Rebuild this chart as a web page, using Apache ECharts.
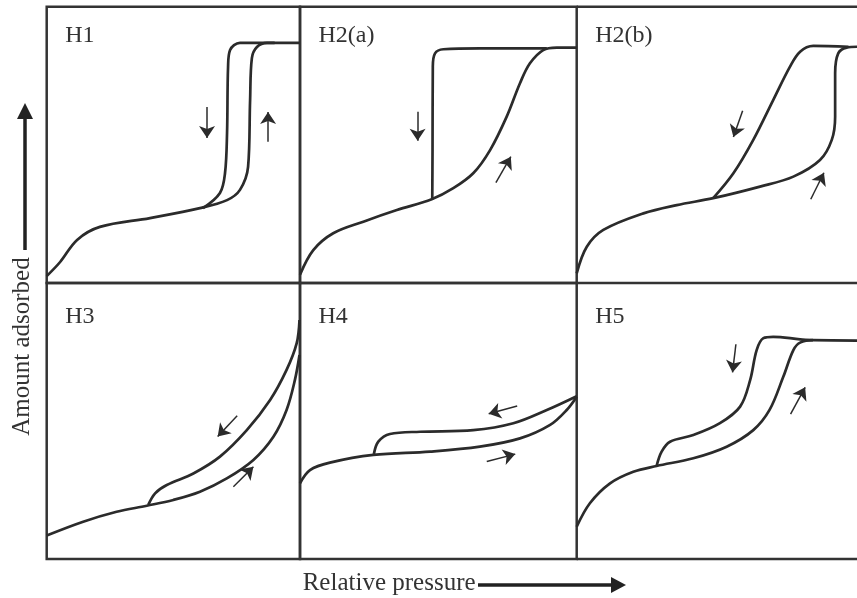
<!DOCTYPE html>
<html>
<head>
<meta charset="utf-8">
<script src="https://cdn.jsdelivr.net/npm/echarts@6/dist/echarts.min.js"></script>
<style>html,body{margin:0;padding:0;background:#fff}#c{width:857px;height:598px}</style>
</head>
<body>
<div id="c"></div>
<script>
// Panel names
const panelNames = ['H1', 'H2(a)', 'H2(b)', 'H3', 'H4', 'H5'];
const xAxisName = 'Relative pressure';
const yAxisName = 'Amount adsorbed';

// Curves: [relative pressure (0-100 of panel), amount adsorbed (0-100 of panel)]
const h1Ads = [[0,2.5],[5.3,7.6],[12,15.6],[21,20.3],[40.8,23.5],[60.5,27.1],[71.2,30],[76.3,33.7],[79.5,42],[80.3,66.2],[81,81.4],[83,85.4],[87,86.9],[100,86.9]];
const h1Des = [[61.7,27.1],[68.4,32.6],[70.4,39.8],[71.2,54.3],[71.6,78.2],[72.4,84.3],[76.3,86.9],[90,86.9]];
const h2aAds = [[0,3],[4.8,11.9],[12,18],[22.9,22.2],[35,26.4],[47.6,30.3],[55.4,34.3],[62.6,39.7],[68.7,48.1],[74.7,60.2],[79.5,72.3],[83.1,79.5],[87.9,84.3],[92.8,85.2],[100,85.2]];
const h2aDes = [[47.8,30.3],[47.9,48.1],[48,78.3],[48.8,83.1],[51.8,84.6],[65,84.9],[89.2,84.9]];
const h2bAds = [[0,3.5],[3.6,13.1],[9.5,19.2],[23.8,25.2],[35.7,28.2],[48.7,30.7],[65.4,34.9],[77.3,38.5],[86.8,44.5],[91,51.8],[92.2,60.2],[92.2,75.9],[93.3,83.1],[96.3,85.2],[100,85.5]];
const h2bDes = [[48.7,30.7],[55.9,39.7],[63,51.8],[70.1,66.2],[76.1,78.3],[79.7,83.7],[84.4,85.8],[97,85.5]];
const h3Ads = [[0,8.5],[14.4,13.5],[27.6,17.1],[39.5,19.3],[50,21.4],[60.5,24.4],[71.1,29.2],[81.6,35.9],[89.5,44.3],[94.7,54],[98,64.9],[99.8,73.9]];
const h3Des = [[40.1,19.6],[42.8,23.8],[47.4,26.8],[57.9,31],[68.4,37.1],[79,46.7],[88.2,57.6],[94.7,68.5],[98.7,78.2],[99.8,86.6]];
const h4Ads = [[0,27.4],[3.6,32.2],[10.8,34.9],[26.5,37.7],[47,38.9],[65,40.7],[79.5,43.7],[90.4,48.6],[96.4,54],[100,58.8]];
const h4Des = [[26.7,38],[28.3,42.5],[32.5,45.3],[43.4,46.1],[62.6,46.7],[77.1,49.2],[89.2,54],[100,59]];
const h5Ads = [[0,11.7],[4.7,20.2],[11.9,27.4],[20.2,31.6],[28.5,33.7],[41.6,36.5],[53.5,40.7],[63,46.7],[68.8,54],[73.7,66],[77.3,75.7],[79.7,78.4],[84.4,79.3],[100,79.1]];
const h5Des = [[28.5,33.7],[30.3,38.9],[33.3,42.5],[41.6,44.9],[51.1,49.2],[58.3,55.2],[61.9,64.9],[64.2,75.7],[66.6,80],[70.1,80.5],[79.7,79.6],[84.3,79.3]];

// Direction arrows: [start, end] in panel data units
const desorbArrows = [[[63.3,63.7],[63.3,52.5]], [[42.5,62],[42.5,51.5]], [[59.2,62.3],[55.9,52.8]], [[75.2,51.9],[67.5,44.4]], [[78.5,55.4],[68.2,52.6]], [[56.8,77.8],[55.6,67.6]]];
const adsorbArrows = [[[87.4,51.1],[87.4,61.9]], [[70.8,36.3],[76.2,45.7]], [[83.5,30.3],[88.2,39.9]], [[73.7,26.2],[81.6,33.4]], [[67.5,35.3],[77.8,38]], [[76.3,52.5],[81.5,62.2]]];

const adsList = [h1Ads, h2aAds, h2bAds, h3Ads, h4Ads, h5Ads];
const desList = [h1Des, h2aDes, h2bDes, h3Des, h4Des, h5Des];

// Layout
const colLeft = [46.7, 300, 576.7];
const colWidth = [253.3, 276.7, 280.3];
const rowTop = [6.7, 283];
const rowHeight = [276.3, 276];

const ink = '#2b2b2b';
const frame = '#333';
const font = '"Liberation Serif", "Times New Roman", serif';

const grid = [], xAxis = [], yAxis = [], series = [], graphic = [];
for (let i = 0; i < 6; i++) {
  const r = Math.floor(i / 3), c = i % 3;
  grid.push({left: colLeft[c], top: rowTop[r], width: colWidth[c], height: rowHeight[r],
    show: c < 2, borderColor: frame, borderWidth: 2.5, backgroundColor: 'transparent'});
  xAxis.push({gridIndex: i, type: 'value', min: 0, max: 100, show: false});
  yAxis.push({gridIndex: i, type: 'value', min: 0, max: 100, show: false});
  [adsList[i], desList[i]].forEach(d => series.push({
    type: 'line', xAxisIndex: i, yAxisIndex: i, data: d, smooth: 0.35,
    symbol: 'none', clip: false, silent: true,
    lineStyle: {color: ink, width: 2.7}
  }));
  series.push({
    type: 'lines', coordinateSystem: 'cartesian2d', xAxisIndex: i, yAxisIndex: i,
    symbol: ['none', 'arrow'], symbolSize: 12, silent: true,
    lineStyle: {color: ink, width: 1.5, opacity: 1, curveness: 0},
    data: [{coords: desorbArrows[i]}, {coords: adsorbArrows[i]}]
  });
  graphic.push({type: 'text', x: colLeft[c] + 18.5, y: rowTop[r] + (r === 0 ? 29.5 : 34),
    style: {text: panelNames[i], font: '24px ' + font, fill: '#333', align: 'left', verticalAlign: 'middle'}});
}

// Frame edges of the right-hand column, which runs past the picture's right edge
[rowTop[0], rowTop[1], rowTop[1] + rowHeight[1]].forEach(y => graphic.push({
  type: 'line', shape: {x1: colLeft[2], y1: y, x2: 860, y2: y},
  style: {stroke: frame, lineWidth: 2.5}
}));

// Axis captions with arrows
graphic.push({type: 'text', x: 22, y: 346.5, rotation: Math.PI / 2,
  style: {text: yAxisName, font: '25px ' + font, fill: '#333', align: 'center', verticalAlign: 'middle'}});
graphic.push({type: 'line', shape: {x1: 25, y1: 250, x2: 25, y2: 116}, style: {stroke: '#222', lineWidth: 3.5}});
graphic.push({type: 'polygon', shape: {points: [[25, 103], [17, 119], [33, 119]]}, style: {fill: '#222'}});
graphic.push({type: 'text', x: 302.7, y: 583.5,
  style: {text: xAxisName, font: '25px ' + font, fill: '#333', align: 'left', verticalAlign: 'middle'}});
graphic.push({type: 'line', shape: {x1: 478, y1: 585, x2: 613, y2: 585}, style: {stroke: '#222', lineWidth: 3.5}});
graphic.push({type: 'polygon', shape: {points: [[626, 585], [611, 577], [611, 593]]}, style: {fill: '#222'}});

const chart = echarts.init(document.getElementById('c'), null, {renderer: 'canvas'});
chart.setOption({backgroundColor: '#fff', animation: false, grid, xAxis, yAxis, series, graphic});
</script>
</body>
</html>
